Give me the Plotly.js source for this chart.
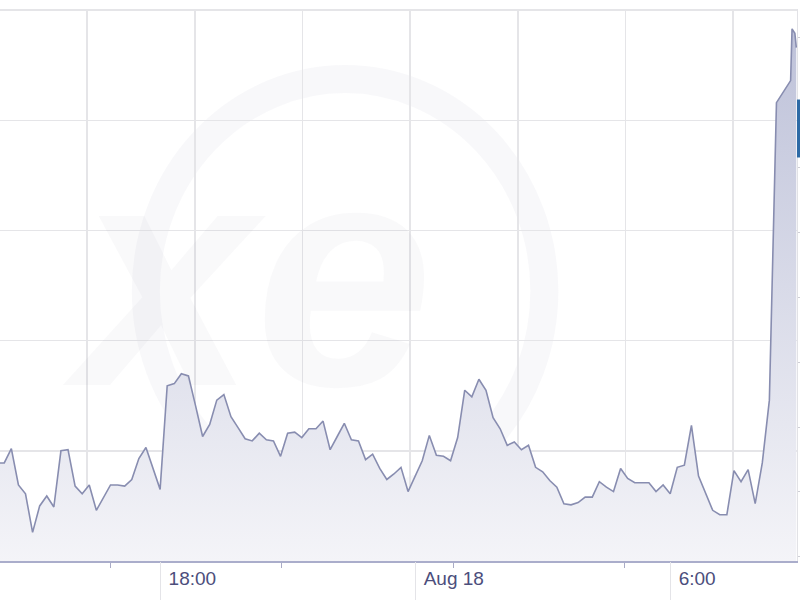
<!DOCTYPE html>
<html>
<head>
<meta charset="utf-8">
<script src="https://cdn.plot.ly/plotly-3.0.1.min.js"></script>
<style>html,body{margin:0;padding:0;background:#fff;}#chart{width:800px;height:600px;}</style>
</head>
<body>
<div id="chart"></div>
<script>
// 10-minute samples starting Aug 17 14:20
const startTime = '2024-08-17T14:20:00Z';
const stepMinutes = 10;
const rates = [
  1.09589, 1.09602, 1.09569, 1.09561, 1.09526, 1.09550, 1.09559, 1.09549, 1.09600, 1.09601,
  1.09568, 1.09561, 1.09569, 1.09546, 1.09557, 1.09569, 1.09569, 1.09568, 1.09574, 1.09593,
  1.09603, 1.09584, 1.09565, 1.09659, 1.09661, 1.09670, 1.09668, 1.09641, 1.09613, 1.09624,
  1.09646, 1.09651, 1.09631, 1.09621, 1.09611, 1.09609, 1.09616, 1.09610, 1.09609, 1.09595,
  1.09616, 1.09617, 1.09612, 1.09620, 1.09620, 1.09627, 1.09601, 1.09613, 1.09625, 1.09610,
  1.09609, 1.09592, 1.09597, 1.09584, 1.09574, 1.09579, 1.09585, 1.09563, 1.09577, 1.09591,
  1.09614, 1.09596, 1.09595, 1.09591, 1.09612, 1.09655, 1.09649, 1.09665, 1.09655, 1.09630,
  1.09620, 1.09605, 1.09608, 1.09601, 1.09605, 1.09585, 1.09581, 1.09573, 1.09567, 1.09552,
  1.09551, 1.09553, 1.09558, 1.09558, 1.09572, 1.09567, 1.09563, 1.09584, 1.09575, 1.09571,
  1.09571, 1.09571, 1.09563, 1.09569, 1.09561, 1.09585, 1.09587, 1.09623, 1.09577, 1.09561,
  1.09546, 1.09542, 1.09542, 1.09582, 1.09572, 1.09583, 1.09552, 1.09589, 1.09646, 1.09916,
  1.09926, 1.09936
];
// first visible tick before the regular series, and last few irregular ticks
const headTimes = ['2024-08-17 14:14'];
const headRates = [1.09589];
const tailTimes = ['2024-08-18 08:52', '2024-08-18 08:56', '2024-08-18 08:58'];
const tailRates = [1.09983, 1.09979, 1.09966];

const xRange = ['2024-08-17 14:14', '2024-08-18 08:59'];
const yRange = [1.0950, 1.10001];
const gridTick0 = '2024-08-17 16:17';
const gridStepMinutes = 152;
const minorTicks = ['2024-08-17 16:50', '2024-08-17 20:52', '2024-08-18 00:54', '2024-08-18 04:56'];
const labelTicks = ['2024-08-17 18:00', '2024-08-18 00:00', '2024-08-18 06:00'];
const labelText = ['18:00', 'Aug 18', '6:00'];
const rightTicks = [1.09504, 1.09563, 1.09621, 1.09680, 1.09739, 1.09798, 1.09857, 1.09916, 1.09975];

function fmt(ms){ return new Date(ms).toISOString().replace('T',' ').slice(0,16); }
const t0 = Date.parse(startTime);
const times = rates.map((_, i) => fmt(t0 + i * stepMinutes * 60000));
const xs = headTimes.concat(times, tailTimes);
const ys = headRates.concat(rates, tailRates);

const traces = [
  {
    x: xs, y: ys, type: 'scatter', mode: 'lines',
    line: {color: '#888db0', width: 1.6},
    fill: 'tozeroy',
    fillgradient: {type: 'vertical', start: 1.0950, stop: 1.1000,
      colorscale: [[0, '#f4f4f8'], [1, '#bcc0d8']]},
    hoverinfo: 'x+y', showlegend: false
  },
  {x: [], y: [], xaxis: 'x2', yaxis: 'y', showlegend: false, hoverinfo: 'skip'},
  {x: [], y: [], xaxis: 'x3', yaxis: 'y', showlegend: false, hoverinfo: 'skip'},
  {x: [], y: [], xaxis: 'x', yaxis: 'y2', showlegend: false, hoverinfo: 'skip'}
];

const layout = {
  width: 800, height: 600,
  margin: {l: 0, r: 3, t: 9, b: 39, pad: 0},
  paper_bgcolor: '#ffffff', plot_bgcolor: 'rgba(0,0,0,0)',
  showlegend: false,
  xaxis: {
    type: 'date', range: xRange, tick0: gridTick0, dtick: gridStepMinutes * 60000,
    showgrid: true, gridcolor: '#e5e5e8', gridwidth: 1.5,
    ticks: '', showticklabels: false, showline: false, zeroline: false, fixedrange: true
  },
  xaxis2: {
    type: 'date', overlaying: 'x', anchor: 'y', side: 'bottom', range: xRange,
    tickmode: 'array', tickvals: minorTicks, ticks: 'outside', ticklen: 5, tickwidth: 1,
    tickcolor: '#a9abc6', showticklabels: false, showgrid: false,
    showline: true, linecolor: '#aaadcb', linewidth: 2, zeroline: false
  },
  xaxis3: {
    type: 'date', overlaying: 'x', anchor: 'y', side: 'bottom', range: xRange,
    tickmode: 'array', tickvals: labelTicks, ticktext: labelText,
    ticks: 'outside', ticklen: 38, tickwidth: 1, tickcolor: '#e4e4e8',
    ticklabelposition: 'outside right', ticklabelstandoff: 0, ticklabelshift: 8,
    tickfont: {family: 'Liberation Sans, Arial, sans-serif', size: 19, color: '#4c4e7c'},
    showgrid: false, showline: false, zeroline: false
  },
  yaxis: {
    range: yRange, tick0: 1.0950, dtick: 0.001,
    showgrid: true, gridcolor: '#e5e5e8', gridwidth: 1.5,
    ticks: '', showticklabels: false, zeroline: false, showline: false, fixedrange: true
  },
  yaxis2: {
    range: yRange, overlaying: 'y', anchor: 'x', side: 'right',
    tickmode: 'array', tickvals: rightTicks, ticks: 'outside', ticklen: 4, tickwidth: 1,
    tickcolor: '#cfcfd6', showticklabels: false, showgrid: false,
    showline: true, linecolor: '#e2e2e6', linewidth: 1, zeroline: false
  },
  shapes: [
    {type: 'circle', xref: 'paper', yref: 'paper', layer: 'below',
      x0: 0.183, x1: 0.683, y0: 0.105, y1: 0.873,
      line: {color: 'rgba(120,120,150,0.05)', width: 28}},
    {type: 'rect', xref: 'paper', yref: 'paper', layer: 'above',
      x0: 1.0, x1: 1.006, y0: 0.731, y1: 0.836,
      fillcolor: '#2d6aa6', line: {width: 0}}
  ],
  annotations: [
    {text: '<b><i>xe</i></b>', xref: 'paper', yref: 'paper', x: 0.31, y: 0.52,
      xanchor: 'center', yanchor: 'middle', showarrow: false,
      font: {family: 'Liberation Sans, Arial, sans-serif', size: 320, color: 'rgba(120,120,150,0.045)'}}
  ]
};

Plotly.newPlot('chart', traces, layout, {displayModeBar: false, staticPlot: true});
</script>
</body>
</html>
